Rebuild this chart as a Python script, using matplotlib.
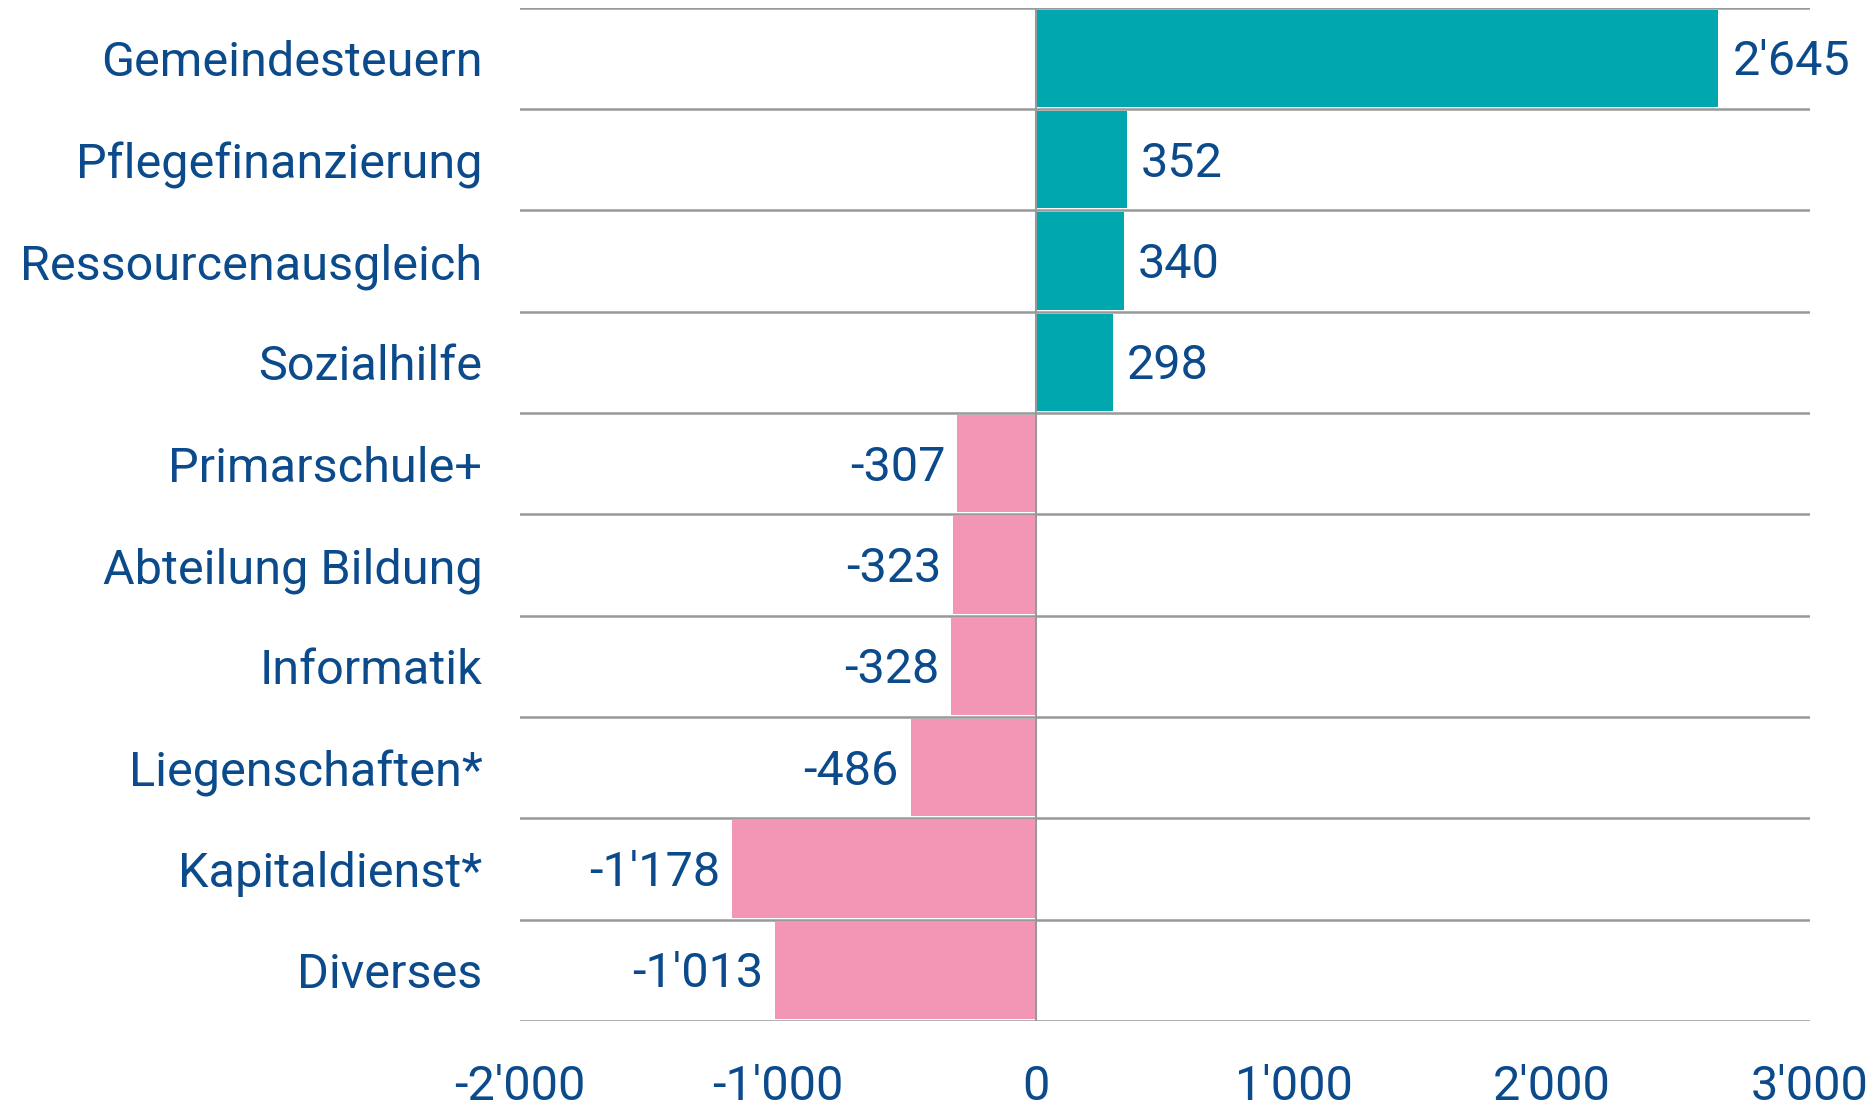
import matplotlib
matplotlib.use('Agg')
import matplotlib.pyplot as plt
import numpy as np

# Kategorien und Werte
kategorien = ['Gemeindesteuern', 'Pflegefinanzierung', 'Ressourcenausgleich', 'Sozialhilfe',
              'Primarschule+', 'Abteilung Bildung', 'Informatik', 'Liegenschaften*',
              'Kapitaldienst*', 'Diverses']
werte = [2645, 352, 340, 298, -307, -323, -328, -486, -1178, -1013]
x_ticks = [-2000, -1000, 0, 1000, 2000, 3000]

blau = '#0b4a8b'
teal = '#00a7ae'
rosa = '#f396b5'

plt.rcParams['font.family'] = ['Roboto', 'DejaVu Sans']
fs = 35


def fmt(v):
    return f'{v:,}'.replace(',', "'")


fig = plt.figure(figsize=(18.73, 11.08), dpi=100)
ax = fig.add_axes([0.2776, 0.0785, 0.6888, 0.9145])

y = np.arange(len(kategorien))
farben = [teal if v > 0 else rosa for v in werte]
ax.barh(y, werte, height=0.96, color=farben, zorder=2)

for yi, v in zip(y, werte):
    if v > 0:
        ax.text(v + 55, yi + 0.04, fmt(v), va='center', ha='left', fontsize=fs, color=blau)
    else:
        ax.text(v - 45, yi + 0.04, fmt(v), va='center', ha='right', fontsize=fs, color=blau)

ax.set_xlim(-2000, 3000)
ax.set_ylim(len(kategorien) - 0.5, -0.5)
ax.set_yticks(y)
ax.set_yticklabels(kategorien, fontsize=fs, color=blau)
ax.set_xticks(x_ticks)
ax.set_xticklabels([fmt(t) for t in x_ticks], fontsize=fs, color=blau)
ax.tick_params(axis='both', length=0)
ax.tick_params(axis='x', pad=31)
ax.tick_params(axis='y', pad=27)

# Trennlinien zwischen den Kategorien
for b in np.arange(-0.5, len(kategorien), 1.0):
    ax.axhline(b, color='#999999', linewidth=1.8, zorder=1)
ax.axvline(0, color='#999999', linewidth=1.5, zorder=3)

for s in ax.spines.values():
    s.set_visible(False)

fig.savefig('out.png', dpi=100)
